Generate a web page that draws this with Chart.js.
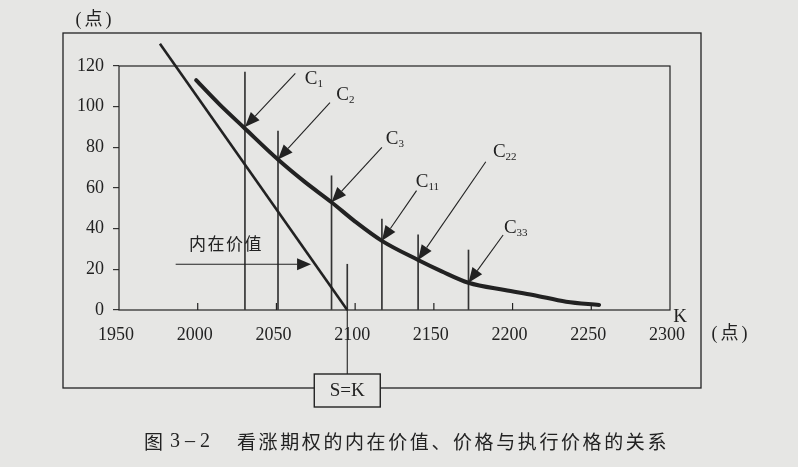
<!DOCTYPE html>
<html>
<head>
<meta charset="utf-8">
<script src="https://cdn.jsdelivr.net/npm/chart.js@4.4.1/dist/chart.umd.min.js"></script>
<style>
  html, body { margin: 0; padding: 0; background: #e6e6e4; }
  #chart { display: block; }
</style>
</head>
<body>
<canvas id="chart" width="798" height="467"></canvas>
<script>
// === Data ===
const xTicks = [1950, 2000, 2050, 2100, 2150, 2200, 2250, 2300];
const yTicks = [0, 20, 40, 60, 80, 100, 120];

// option price curve C (strike K -> price)
const curveK = [1999, 2014, 2029, 2051, 2068, 2085, 2100, 2117, 2140, 2155, 2172, 2195, 2213, 2234, 2255];
const curveV = [113, 101, 90, 74, 63, 53, 43.5, 34, 24.6, 19, 13.4, 9.8, 7.4, 4.1, 2.5];

// intrinsic value line
const intrinsicK = [1976, 2095];
const intrinsicV = [131, 0];

// vertical strike lines (S=K is index 3)
const strikeK = [2030, 2051, 2085, 2095, 2117, 2140, 2172];
const strikeTop = [117, 88, 66, 22.5, 44.7, 37, 29.5];
const sIndex = 3;

// C labels: arrow tip on the curve, arrow tail, text position
const labelNames = ["1", "2", "3", "11", "22", "33"];
const tipK = [2030, 2051, 2085, 2117, 2140, 2172];
const tipV = [90, 74, 53, 34, 24.6, 13.4];
const tailK = [2062, 2084, 2117, 2139, 2183, 2194];
const tailV = [116.4, 102, 80, 58.7, 72.9, 36.9];
const textK = [2068, 2088, 2119.5, 2138.5, 2187.5, 2194.5];
const textV = [114, 106, 84.6, 63.5, 78, 41];

// "内在价值" arrow
const ivTailK = 1986, ivTipK = 2072, ivV = 22.5;
const ivTextK = 2018, ivTextV = 32.5;

const caption = "看涨期权的内在价值、价格与执行价格的关系";

// === Styles ===
const serif = '"Liberation Serif", "DejaVu Serif", serif';
const cjk = '"Noto Sans CJK SC", sans-serif';
const ink = "#222";
const paper = "#e6e6e4";

function arrow(ctx, x1, y1, x2, y2, len, wid) {
  const a = Math.atan2(y2 - y1, x2 - x1);
  const bx = x2 - len * Math.cos(a), by = y2 - len * Math.sin(a);
  ctx.beginPath();
  ctx.moveTo(x1, y1);
  ctx.lineTo(bx, by);
  ctx.stroke();
  ctx.beginPath();
  ctx.moveTo(x2, y2);
  ctx.lineTo(bx + (wid / 2) * Math.sin(a), by - (wid / 2) * Math.cos(a));
  ctx.lineTo(bx - (wid / 2) * Math.sin(a), by + (wid / 2) * Math.cos(a));
  ctx.closePath();
  ctx.fill();
}

const decor = {
  id: "decor",
  afterDraw(chart) {
    const { ctx, chartArea: a, scales: { x, y } } = chart;
    ctx.save();
    ctx.strokeStyle = ink;
    ctx.fillStyle = ink;

    // inner frame
    ctx.lineWidth = 1.2;
    ctx.strokeRect(a.left, a.top, a.right - a.left, a.bottom - a.top);

    // x ticks point inward
    x.ticks.forEach(t => {
      if (t.value <= x.min || t.value >= x.max) return;
      const px = x.getPixelForValue(t.value);
      ctx.beginPath();
      ctx.moveTo(px, a.bottom);
      ctx.lineTo(px, a.bottom - 7);
      ctx.stroke();
    });

    // outer box
    const ob = { l: a.left - 56, t: a.top - 33, r: a.right + 31, b: a.bottom + 78 };
    ctx.lineWidth = 1.3;
    ctx.strokeRect(ob.l, ob.t, ob.r - ob.l, ob.b - ob.t);

    // S=K drop line and box
    const sx = x.getPixelForValue(strikeK[sIndex]);
    const boxW = 66, boxH = 33, boxTop = a.bottom + 64;
    ctx.lineWidth = 1.1;
    ctx.beginPath();
    ctx.moveTo(sx, a.bottom);
    ctx.lineTo(sx, boxTop);
    ctx.stroke();
    ctx.fillStyle = paper;
    ctx.fillRect(sx - boxW / 2, boxTop, boxW, boxH);
    ctx.lineWidth = 1.4;
    ctx.strokeRect(sx - boxW / 2, boxTop, boxW, boxH);
    ctx.fillStyle = ink;
    ctx.font = "19px " + serif;
    ctx.textAlign = "center";
    ctx.textBaseline = "middle";
    ctx.fillText("S=K", sx, boxTop + boxH / 2 + 1);

    // C labels with arrows
    ctx.lineWidth = 1.1;
    labelNames.forEach((n, i) => {
      arrow(ctx, x.getPixelForValue(tailK[i]), y.getPixelForValue(tailV[i]),
        x.getPixelForValue(tipK[i]), y.getPixelForValue(tipV[i]), 15, 12);
      const lx = x.getPixelForValue(textK[i]), ly = y.getPixelForValue(textV[i]);
      ctx.textAlign = "left";
      ctx.textBaseline = "alphabetic";
      ctx.font = "19px " + serif;
      ctx.fillText("C", lx, ly + 6);
      const cw = ctx.measureText("C").width;
      ctx.font = "11px " + serif;
      ctx.fillText(n, lx + cw, ly + 9);
    });

    // intrinsic value arrow + text
    const ivy = y.getPixelForValue(ivV);
    arrow(ctx, x.getPixelForValue(ivTailK), ivy, x.getPixelForValue(ivTipK), ivy, 14, 12);
    ctx.font = "17px " + cjk;
    ctx.letterSpacing = "1.5px";
    ctx.textAlign = "center";
    ctx.textBaseline = "middle";
    ctx.fillText("内在价值", x.getPixelForValue(ivTextK), y.getPixelForValue(ivTextV));

    // unit labels and K
    ctx.font = "18px " + serif + ", " + cjk;
    ctx.letterSpacing = "3px";
    ctx.fillText("(点)", ob.l + 32, ob.t - 13);
    ctx.fillText("(点)", a.right + 61, a.bottom + 24);
    ctx.letterSpacing = "0px";
    ctx.font = "19px " + serif;
    ctx.fillText("K", a.right + 10, a.bottom + 7);

    // caption
    ctx.textAlign = "left";
    ctx.font = "19px " + cjk;
    ctx.fillText("图", 144, 442);
    ctx.font = "20px " + serif;
    ctx.fillText("3 – 2", 170, 442);
    ctx.font = "19px " + cjk;
    ctx.letterSpacing = "2.6px";
    ctx.fillText(caption, 237, 442);
    ctx.restore();
  }
};

new Chart(document.getElementById("chart"), {
  type: "line",
  data: {
    datasets: [
      {
        type: "bar",
        label: "执行价格",
        data: strikeK.map((k, i) => ({ x: k, y: strikeTop[i] })),
        backgroundColor: "#333",
        barThickness: 1,
        order: 3
      },
      {
        label: "内在价值",
        data: intrinsicK.map((k, i) => ({ x: k, y: intrinsicV[i] })),
        borderColor: ink,
        borderWidth: 2.6,
        pointRadius: 0,
        clip: false,
        order: 2
      },
      {
        label: "期权价格",
        data: curveK.map((k, i) => ({ x: k, y: curveV[i] })),
        borderColor: ink,
        borderWidth: 4,
        pointRadius: 0,
        cubicInterpolationMode: "monotone",
        borderCapStyle: "round",
        order: 1
      }
    ]
  },
  options: {
    responsive: false,
    animation: false,
    devicePixelRatio: 1,
    layout: { padding: { left: 63, top: 66, right: 128, bottom: 117 } },
    plugins: { legend: { display: false }, tooltip: { enabled: false } },
    scales: {
      x: {
        type: "linear",
        min: 1950,
        max: 2300,
        offset: false,
        afterBuildTicks: s => { s.ticks = xTicks.map(v => ({ value: v })); },
        afterFit: s => { s.height = 40; },
        grid: { display: false, drawTicks: false },
        border: { display: false },
        ticks: {
          font: { family: serif, size: 18 }, color: ink, padding: 14, labelOffset: -3,
          maxRotation: 0, autoSkip: false, callback: v => String(v)
        }
      },
      y: {
        min: 0,
        max: 120,
        afterBuildTicks: s => { s.ticks = yTicks.map(v => ({ value: v })); },
        afterFit: s => { s.width = 56; },
        grid: { drawOnChartArea: false, tickLength: 6, color: "#333", lineWidth: 1.2 },
        border: { display: false },
        ticks: { font: { family: serif, size: 18 }, color: ink, padding: 9 }
      }
    }
  },
  plugins: [decor]
});
</script>
</body>
</html>
